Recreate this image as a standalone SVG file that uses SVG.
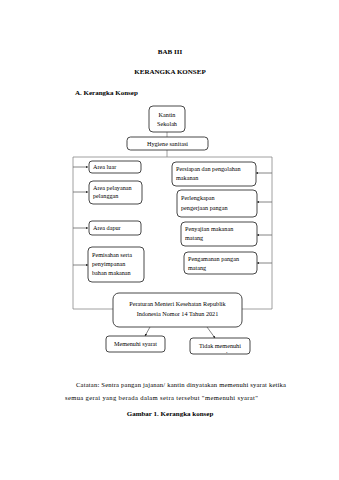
<svg xmlns="http://www.w3.org/2000/svg" width="339" height="480" viewBox="0 0 339 480">
<style>
text{font-family:"Liberation Serif","Times New Roman",serif;fill:#000;}
.t{font-size:6.2px;}
.n{font-size:6.6px;}
.h{font-size:7px;font-weight:bold;}
.c{text-anchor:middle;}
.box{fill:#fff;stroke:#333;stroke-width:0.9;}
.ln{fill:none;stroke:#888;stroke-width:0.8;}
.ar{fill:none;stroke:#666;stroke-width:0.8;}
</style>
<defs>
<marker id="ah" viewBox="0 0 6 6" refX="5.5" refY="3" markerWidth="3" markerHeight="3" orient="auto"><path d="M0,0 L6,3 L0,6 z" fill="#222"/></marker>
</defs>
<rect width="339" height="480" fill="#fff"/>
<text class="h c" x="170" y="54">BAB III</text>
<text class="h c" x="170" y="74">KERANGKA KONSEP</text>
<text class="h" x="75" y="95">A. Kerangka Konsep</text>

<g id="connectors">
<path class="ln" d="M167,132 V137 M167,150 V157 M73,157 H272 M73,157 V309 H113 M272,157 V309 H242"/>
<path class="ar" marker-end="url(#ah)" d="M73,167 H88"/>
<path class="ar" marker-end="url(#ah)" d="M73,192 H88"/>
<path class="ar" marker-end="url(#ah)" d="M73,228 H88"/>
<path class="ar" marker-end="url(#ah)" d="M73,265 H88"/>
<path class="ar" marker-end="url(#ah)" d="M272,173 H256"/>
<path class="ar" marker-end="url(#ah)" d="M272,202 H257"/>
<path class="ar" marker-end="url(#ah)" d="M272,235 H257"/>
<path class="ar" marker-end="url(#ah)" d="M272,263 H257"/>
<path class="ar" marker-end="url(#ah)" d="M150,327 L145,336"/>
<path class="ar" marker-end="url(#ah)" d="M207,327 L215,338"/>
</g>

<g id="kantin"><rect class="box" x="149" y="106" width="36" height="26" rx="4"/>
<text class="t c" x="167" y="117">Kantin</text><text class="t c" x="167" y="126">Sekolah</text></g>
<g id="hygiene"><rect class="box" x="127" y="137" width="81" height="13" rx="3.5"/>
<text class="t c" x="167.5" y="146">Hygiene sanitasi</text></g>

<g id="area-luar"><rect class="box" x="89" y="161" width="52" height="12" rx="3"/>
<text class="t" x="93" y="169">Area luar</text></g>
<g id="area-pelayanan"><rect class="box" x="89" y="181" width="53" height="23" rx="4"/>
<text class="t" x="93" y="190">Area pelayanan</text><text class="t" x="93" y="198">pelanggan</text></g>
<g id="area-dapur"><rect class="box" x="89" y="221" width="52" height="14" rx="3"/>
<text class="t" x="93" y="230">Area dapur</text></g>
<g id="pemisahan"><rect class="box" x="88" y="247" width="56" height="35" rx="4"/>
<text class="t" x="92" y="257">Pemisahan serta</text><text class="t" x="92" y="266">penyimpanan</text><text class="t" x="92" y="275">bahan makanan</text></g>

<g id="persiapan"><rect class="box" x="172" y="162" width="84" height="24" rx="4"/>
<text class="t" x="176" y="171">Persiapan dan pengolahan</text><text class="t" x="176" y="180">makanan</text></g>
<g id="perlengkapan"><rect class="box" x="177" y="190" width="80" height="27" rx="4"/>
<text class="t" x="181" y="200">Perlengkapan</text><text class="t" x="181" y="210">pengerjaan pangan</text></g>
<g id="penyajian"><rect class="box" x="181" y="222" width="76" height="24" rx="4"/>
<text class="t" x="185" y="231">Penyajian makanan</text><text class="t" x="185" y="240">matang</text></g>
<g id="pengamanan"><rect class="box" x="184" y="252" width="73" height="22" rx="4"/>
<text class="t" x="188" y="261">Pengamanan pangan</text><text class="t" x="188" y="270">matang</text></g>

<g id="peraturan"><rect class="box" x="113" y="293" width="129" height="34" rx="6"/>
<text class="t c" x="177.5" y="306">Peraturan Menteri Kesehatan Republik</text><text class="t c" x="177.5" y="316">Indonesia Nomor 14 Tahun 2021</text></g>
<g id="memenuhi"><rect class="box" x="106" y="336" width="59" height="16" rx="3"/>
<text class="t c" x="135.5" y="346">Memenuhi syarat</text></g>
<g id="tidak"><rect class="box" x="190" y="338" width="60" height="16" rx="3"/>
<text class="t c" x="220" y="348">Tidak memenuhi</text><text class="t" x="226" y="353">.</text></g>

<text class="n" x="76" y="387" textLength="210" lengthAdjust="spacing">Catatan: Sentra pangan jajanan/ kantin dinyatakan memenuhi syarat ketika</text>
<text class="n" x="65" y="400" textLength="193" lengthAdjust="spacing">semua gerai yang berada dalam setra tersebut "memenuhi syarat"</text>
<text class="h c" x="170" y="416">Gambar 1. Kerangka konsep</text>
</svg>
